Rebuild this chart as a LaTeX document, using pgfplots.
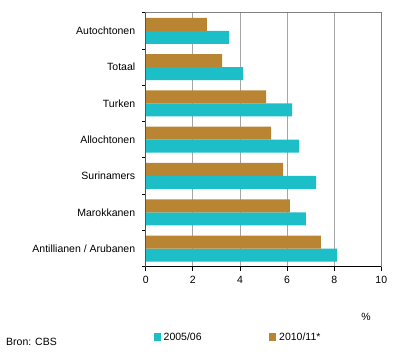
\documentclass[border=0pt]{standalone}
\usepackage{pgfplots}
\pgfplotsset{compat=1.18}
\usepackage{fontspec}
\setmainfont{Liberation Sans}
\definecolor{teal1}{RGB}{28,190,200}
\definecolor{brown1}{RGB}{185,133,51}
\definecolor{gridg}{RGB}{165,165,165}
\begin{document}
\begin{tikzpicture}[x=1bp,y=1bp,font=\fontsize{10.5bp}{12bp}\selectfont]
\useasboundingbox (0,0) rectangle (395,353);
\begin{axis}[
  at={(145.7bp,86.3bp)}, anchor=south west,
  scale only axis, width=235.6bp, height=254bp,
  xmin=0, xmax=10, ymin=-0.5, ymax=6.5,
  y dir=reverse,
  xbar, bar width=13bp,
  xtick={0,2,4,6,8,10}, xtick pos=bottom,
  ytick={0,1,2,3,4,5,6}, ytick pos=left,
  yticklabels={Autochtonen,Totaal,Turken,Allochtonen,Surinamers,Marokkanen,Antillianen / Arubanen},
  minor ytick={-0.5,0.5,1.5,2.5,3.5,4.5,5.5,6.5},
  major y tick style={draw=none},
  minor y tick style={draw=black, line width=0.8pt},
  major x tick style={draw=black, line width=0.8pt},
  tick align=outside, major tick length=4bp, minor tick length=4bp,
  xmajorgrids, grid style={gridg, line width=0.8pt},
  axis line style={gray, line width=0.8pt},
  tick label style={font=\fontsize{10.5bp}{12bp}\selectfont},
  /pgf/number format/assume math mode=true,
  yticklabel style={xshift=-3bp},
  xticklabel style={yshift=-2bp},
]
\addplot[fill=teal1, draw=none, bar shift=-6.5bp] coordinates {
 (3.54,0) (4.13,1) (6.21,2) (6.51,3) (7.23,4) (6.80,5) (8.12,6)};
\addplot[fill=brown1, draw=none, bar shift=6.5bp] coordinates {
 (2.60,0) (3.24,1) (5.11,2) (5.32,3) (5.83,4) (6.12,5) (7.44,6)};
\draw[black, line width=0.8pt] (rel axis cs:0,1) -- (rel axis cs:0,0) -- (rel axis cs:1,0);
\end{axis}
\node[anchor=center] at (366,35.7) {\%};
\fill[teal1] (154,12.5) rectangle (161,19.5);
\node[anchor=west, inner sep=0] at (163.5,16.5) {2005/06};
\fill[brown1] (269,12.5) rectangle (276,19.5);
\node[anchor=west, inner sep=0] at (279,16.5) {2010/11*};
\node[anchor=west, inner sep=0] at (6,11.3) {Bron: CBS};
\end{tikzpicture}
\end{document}
